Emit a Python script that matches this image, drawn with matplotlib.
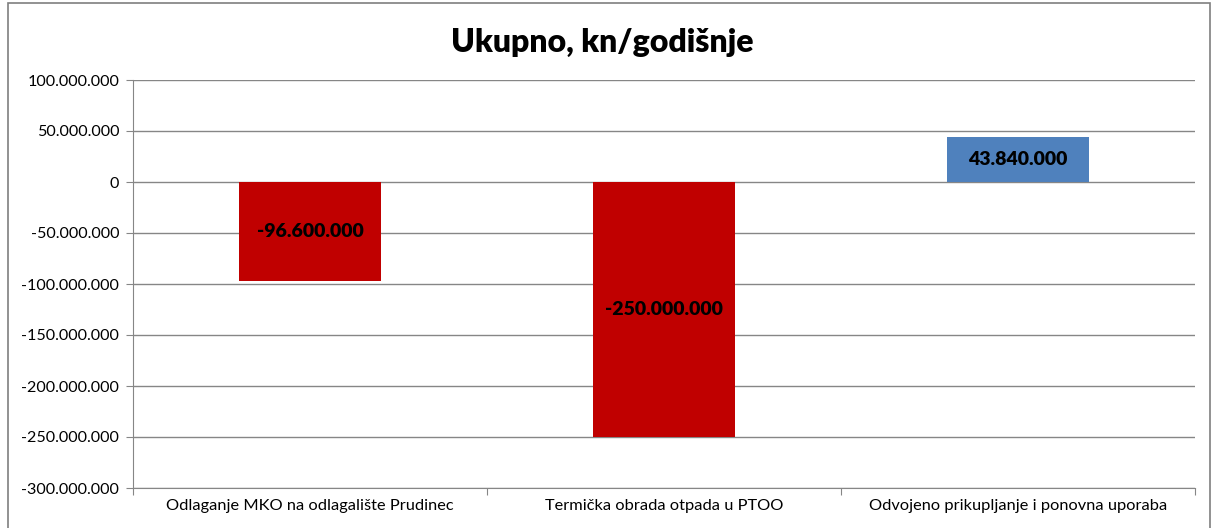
import matplotlib.pyplot as plt
from matplotlib.patches import Rectangle
from matplotlib.ticker import FuncFormatter, MultipleLocator

plt.rcParams['font.family'] = ['Lato', 'DejaVu Sans']

categories = ['Odlaganje MKO na odlagalište Prudinec',
              'Termička obrada otpada u PTOO',
              'Odvojeno prikupljanje i ponovna uporaba']
values = [-96600000, -250000000, 43840000]
colors = ['#C00000', '#C00000', '#4F81BD']
title = 'Ukupno, kn/godišnje'


def fmt(v, pos=None):
    s = '{:,.0f}'.format(abs(v)).replace(',', '.')
    return ('-' if v < 0 else '') + s


W, H = 1212, 528
fig = plt.figure(figsize=(W / 100, H / 100), dpi=100)
ax = fig.add_axes([133 / W, 1 - 488 / H, (1195 - 133) / W, (488 - 80) / H])

# chart frame
fig.patches.append(Rectangle((8 / W, -0.1), (1210 - 8) / W, 1.1 - 3 / H,
                             transform=fig.transFigure, fill=False,
                             edgecolor='#7f7f7f', linewidth=1.2))

x = range(len(categories))
ax.bar(x, values, width=0.4, color=colors, zorder=3)
for xi, v in zip(x, values):
    ax.text(xi, v / 2, fmt(v), ha='center', va='center', fontsize=14,
            fontweight='heavy', color='black', zorder=4)

ax.set_xlim(-0.5, 2.5)
ax.set_ylim(-300000000, 100000000)
ax.yaxis.set_major_locator(MultipleLocator(50000000))
ax.yaxis.set_major_formatter(FuncFormatter(fmt))
ax.grid(axis='y', color='#868686', linewidth=1, zorder=0)
ax.set_axisbelow(True)

ax.set_xticks([-0.5, 0.5, 1.5, 2.5], minor=False)
ax.set_xticklabels([])
ax.set_xticks(list(x), minor=True)
ax.set_xticklabels(categories, minor=True, fontsize=11.8)
ax.tick_params(axis='x', which='minor', length=0, pad=8)
ax.tick_params(axis='x', which='major', length=5, color='#868686')
ax.tick_params(axis='y', length=5, color='#868686', labelsize=11.6, pad=5)

for side in ['top', 'right']:
    ax.spines[side].set_visible(False)
for side in ['left', 'bottom']:
    ax.spines[side].set_color('#868686')

fig.text((452 + 752) / 2 / W, 1 - 42 / H, title, ha='center', va='center',
         fontsize=23, fontweight='heavy')

fig.savefig('out.png', dpi=100)
